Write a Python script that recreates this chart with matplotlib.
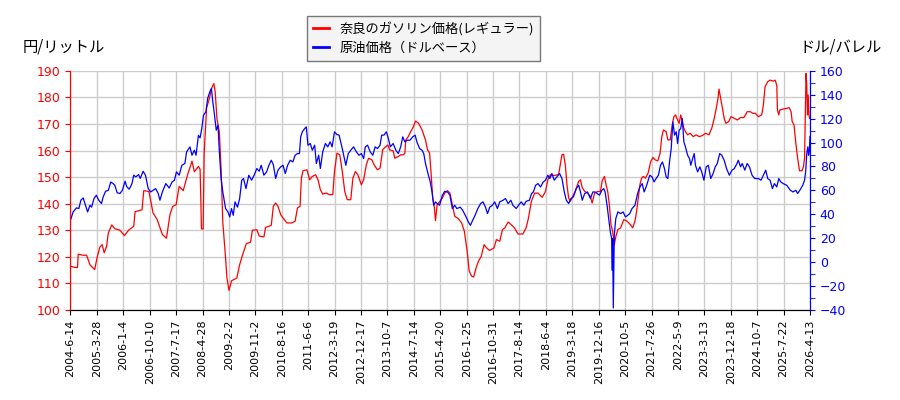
import numpy as np
import pandas as pd
import matplotlib
matplotlib.use("Agg")
import matplotlib.pyplot as plt
from matplotlib.ticker import MultipleLocator

# ---- data ----
tick_labels = ["2004-6-14", "2005-3-28", "2006-1-4", "2006-10-10", "2007-7-17", "2008-4-28",
               "2009-2-2", "2009-11-2", "2010-8-16", "2011-6-6", "2012-3-19", "2012-12-17",
               "2013-10-7", "2014-7-14", "2015-4-20", "2016-1-25", "2016-10-31", "2017-8-14",
               "2018-6-4", "2019-3-18", "2019-12-16", "2020-10-5", "2021-7-26", "2022-5-9",
               "2023-3-13", "2023-12-18", "2024-10-7", "2025-7-22", "2026-4-13"]

# gasoline price in Nara (yen/litre): decimal year, value
gas_year = [2004.45, 2004.58, 2004.66, 2004.68, 2004.83, 2004.93, 2005.03, 2005.17, 2005.24, 2005.32,
            2005.39, 2005.45, 2005.52, 2005.57, 2005.67, 2005.76, 2005.91, 2006.04, 2006.16, 2006.31,
            2006.35, 2006.55, 2006.60, 2006.75, 2006.87, 2006.99, 2007.14, 2007.26, 2007.36, 2007.44,
            2007.54, 2007.63, 2007.75, 2007.88, 2008.01, 2008.08, 2008.20, 2008.25, 2008.27, 2008.29,
            2008.34, 2008.37, 2008.44, 2008.52, 2008.59, 2008.65, 2008.69, 2008.74, 2008.81, 2008.86,
            2008.91, 2008.99, 2009.03, 2009.09, 2009.16, 2009.31, 2009.39, 2009.48, 2009.58, 2009.70,
            2009.75, 2009.88, 2009.95, 2010.09, 2010.14, 2010.24, 2010.31, 2010.37, 2010.44, 2010.51,
            2010.59, 2010.66, 2010.78, 2010.93, 2011.03, 2011.10, 2011.18, 2011.22, 2011.27, 2011.39,
            2011.47, 2011.55, 2011.65, 2011.72, 2011.79, 2011.86, 2011.96, 2012.06, 2012.16, 2012.21,
            2012.28, 2012.36, 2012.43, 2012.50, 2012.57, 2012.67, 2012.73, 2012.80, 2012.87, 2012.97,
            2013.04, 2013.12, 2013.19, 2013.29, 2013.36, 2013.46, 2013.54, 2013.62, 2013.68, 2013.78,
            2013.83, 2013.93, 2013.98, 2014.08, 2014.15, 2014.23, 2014.27, 2014.30, 2014.37, 2014.44,
            2014.52, 2014.58, 2014.67, 2014.77, 2014.87, 2014.93, 2014.99, 2015.03, 2015.08, 2015.13,
            2015.16, 2015.21, 2015.29, 2015.36, 2015.43, 2015.51, 2015.58, 2015.65, 2015.72, 2015.82,
            2015.92, 2016.00, 2016.08, 2016.14, 2016.21, 2016.27, 2016.34, 2016.41, 2016.49, 2016.57,
            2016.64, 2016.73, 2016.86, 2016.93, 2017.03, 2017.11, 2017.18, 2017.28, 2017.37, 2017.47,
            2017.57, 2017.72, 2017.82, 2017.89, 2017.98, 2018.08, 2018.18, 2018.31, 2018.41, 2018.48,
            2018.555, 2018.65, 2018.80, 2018.85, 2018.90, 2018.95, 2019.00, 2019.05, 2019.10, 2019.15,
            2019.22, 2019.29, 2019.39, 2019.44, 2019.49, 2019.56, 2019.64, 2019.72, 2019.77, 2019.84,
            2019.93, 2020.01, 2020.06, 2020.13, 2020.18, 2020.23, 2020.28, 2020.33, 2020.38, 2020.43,
            2020.48, 2020.54, 2020.62, 2020.72, 2020.82, 2020.92, 2020.99, 2021.06, 2021.11, 2021.16,
            2021.21, 2021.26, 2021.31, 2021.38, 2021.46, 2021.54, 2021.61, 2021.67, 2021.75, 2021.82,
            2021.87, 2021.92, 2022.00, 2022.05, 2022.12, 2022.18, 2022.23, 2022.28, 2022.34, 2022.39,
            2022.44, 2022.49, 2022.54, 2022.59, 2022.66, 2022.74, 2022.84, 2022.93, 2023.03, 2023.13,
            2023.23, 2023.33, 2023.41, 2023.48, 2023.54, 2023.59, 2023.62, 2023.67, 2023.72, 2023.77,
            2023.82, 2023.90, 2023.97, 2024.07, 2024.16, 2024.26, 2024.36, 2024.46, 2024.56, 2024.63,
            2024.71, 2024.80, 2024.90, 2024.95, 2025.00, 2025.08, 2025.15, 2025.25, 2025.30, 2025.35,
            2025.37, 2025.41, 2025.44, 2025.54, 2025.64, 2025.71, 2025.76, 2025.79, 2025.84, 2025.89,
            2025.94, 2025.99, 2026.06, 2026.10, 2026.13, 2026.15, 2026.17, 2026.19, 2026.21, 2026.23,
            2026.25, 2026.27]
gas_price = [116.5, 116, 116, 121, 120.6, 120.6, 117, 115.2, 119.6, 123.6,
             124.6, 121.5, 124, 129, 132, 130.6, 130, 128, 130, 131.5,
             137, 137.7, 144.9, 144.6, 136.5, 134, 128.4, 127, 135.9, 139,
             139.6, 146.5, 144.9, 150.9, 156, 152, 154, 153, 142.7, 130.5,
             130.5, 159, 176, 179.6, 183.6, 185.2, 182, 172, 167, 153,
             133, 119.6, 112, 107.4, 111, 112, 117, 121, 125, 125.5,
             130, 130.2, 127.8, 127.5, 131.1, 131.5, 131.9, 139, 140.25, 139,
             135.9, 134.6, 132.75, 132.75, 133.4, 138.4, 139, 149.6, 152.4, 152.75,
             149, 150.25, 150.9, 149, 145.25, 143.6, 144, 143.4, 143.4, 152.1,
             159, 158.4, 152.1, 144.6, 141.5, 141.5, 149.6, 152.1, 150.9, 147.1,
             149, 154.6, 157.1, 156.5, 154.6, 152.75, 153.4, 160.25, 161.1, 162.1,
             160.25, 159.9, 157.1, 157.75, 158.4, 158.4, 159, 164, 165.25, 167.1,
             169, 171.1, 170.25, 167.75, 164, 160.25, 159, 152.1, 142.1, 138.4,
             133.6, 139.6, 140.9, 142.1, 144, 144.9, 144, 139.6, 135.25, 134.4,
             132.75, 129.6, 122.1, 114.6, 112.75, 112.4, 115.9, 118.4, 120.25, 124.6,
             123.4, 122.4, 123.4, 126.5, 125.9, 130.25, 130.9, 133.1, 132.1, 130.9,
             128.6, 128.6, 130.9, 134.6, 140.9, 144, 144, 142.4, 144.6, 149,
             150.9, 150.6, 150.9, 154.6, 158.4, 158.6, 154.6, 147.1, 142.1, 140.9,
             142.75, 144.6, 148.4, 149, 146, 144.6, 144, 142.75, 140.25, 144,
             144.6, 144.6, 148.6, 150.25, 147.1, 144.6, 139.6, 132.1, 129.6, 124.6,
             127.75, 130.25, 130.9, 134, 133.4, 132.1, 130.9, 133.4, 137.1, 142.1,
             147.1, 149.6, 150.25, 149.6, 151.5, 155.9, 157.4, 156.5, 156.1, 159,
             165.25, 167.75, 167.1, 164, 164, 169.6, 172.75, 173.4, 171.5, 170.25,
             173.4, 170.9, 168.4, 167.1, 165.9, 166.5, 165.25, 165.9, 165.25, 165.6,
             166.5, 165.9, 168.4, 172.1, 175.9, 179.6, 183.1, 179.6, 175.9, 172.1,
             170.25, 170.9, 172.75, 172.1, 171.5, 172.4, 172.4, 174.6, 174.6, 174,
             174, 172.75, 173.4, 177.1, 184, 185.9, 186.5, 186.1, 186.5, 184.6,
             175.25, 173.4, 175.25, 175.6, 175.9, 176.1, 174.6, 170.9, 169.6, 162.75,
             157.1, 152.4, 152.4, 154, 157.1, 173.4, 189, 184.6, 173.4, 180.9,
             173.4, 172.1]

# crude oil price (USD/barrel): decimal year, value
oil_year = [2004.46, 2004.53, 2004.63, 2004.70, 2004.76, 2004.83, 2004.88, 2004.96, 2005.03, 2005.08,
            2005.15, 2005.22, 2005.29, 2005.37, 2005.42, 2005.49, 2005.57, 2005.64, 2005.71, 2005.76,
            2005.83, 2005.91, 2005.98, 2006.06, 2006.11, 2006.18, 2006.26, 2006.31, 2006.37, 2006.45,
            2006.50, 2006.58, 2006.65, 2006.73, 2006.80, 2006.87, 2006.945, 2007.02, 2007.07, 2007.14,
            2007.24, 2007.34, 2007.42, 2007.49, 2007.55, 2007.63, 2007.71, 2007.80, 2007.85, 2007.95,
            2008.01, 2008.08, 2008.13, 2008.20, 2008.25, 2008.30, 2008.35, 2008.42, 2008.47, 2008.54,
            2008.58, 2008.62, 2008.67, 2008.72, 2008.77, 2008.81, 2008.86, 2008.91, 2008.99, 2009.06,
            2009.11, 2009.16, 2009.21, 2009.26, 2009.33, 2009.39, 2009.45, 2009.50, 2009.57, 2009.65,
            2009.73, 2009.80, 2009.88, 2009.95, 2010.01, 2010.09, 2010.17, 2010.24, 2010.31, 2010.37,
            2010.44, 2010.51, 2010.59, 2010.66, 2010.73, 2010.80, 2010.88, 2010.96, 2011.03, 2011.10,
            2011.16, 2011.20, 2011.25, 2011.32, 2011.37, 2011.42, 2011.49, 2011.55, 2011.62, 2011.67,
            2011.74, 2011.79, 2011.86, 2011.94, 2012.01, 2012.08, 2012.14, 2012.21, 2012.28, 2012.34,
            2012.43, 2012.47, 2012.53, 2012.60, 2012.67, 2012.75, 2012.83, 2012.90, 2012.97, 2013.04,
            2013.09, 2013.16, 2013.24, 2013.32, 2013.39, 2013.46, 2013.54, 2013.59, 2013.66, 2013.73,
            2013.78, 2013.85, 2013.93, 2014.01, 2014.08, 2014.15, 2014.21, 2014.27, 2014.34, 2014.42,
            2014.50, 2014.57, 2014.62, 2014.70, 2014.77, 2014.82, 2014.87, 2014.93, 2015.01, 2015.06,
            2015.11, 2015.16, 2015.21, 2015.28, 2015.36, 2015.43, 2015.51, 2015.58, 2015.65, 2015.72,
            2015.78, 2015.88, 2015.95, 2016.05, 2016.115, 2016.175, 2016.24, 2016.31, 2016.39, 2016.47,
            2016.54, 2016.61, 2016.67, 2016.735, 2016.81, 2016.88, 2016.96, 2017.03, 2017.13, 2017.20,
            2017.28, 2017.36, 2017.42, 2017.52, 2017.59, 2017.67, 2017.75, 2017.82, 2017.92, 2017.985,
            2018.04, 2018.11, 2018.18, 2018.26, 2018.34, 2018.41, 2018.48, 2018.54, 2018.60, 2018.67,
            2018.75, 2018.83, 2018.90, 2018.97, 2019.03, 2019.10, 2019.17, 2019.24, 2019.32, 2019.39,
            2019.44, 2019.49, 2019.56, 2019.64, 2019.72, 2019.79, 2019.855, 2019.91, 2019.98, 2020.05,
            2020.11, 2020.15, 2020.21, 2020.26, 2020.31, 2020.35, 2020.37, 2020.38, 2020.40, 2020.43,
            2020.475, 2020.54, 2020.62, 2020.70, 2020.77, 2020.84, 2020.90, 2020.97, 2021.06, 2021.14,
            2021.21, 2021.28, 2021.34, 2021.41, 2021.51, 2021.58, 2021.64, 2021.70, 2021.77, 2021.83,
            2021.89, 2021.95, 2022.00, 2022.05, 2022.10, 2022.15, 2022.20, 2022.25, 2022.30, 2022.34,
            2022.39, 2022.44, 2022.49, 2022.54, 2022.59, 2022.66, 2022.72, 2022.76, 2022.82, 2022.87,
            2022.91, 2022.98, 2023.05, 2023.11, 2023.18, 2023.25, 2023.31, 2023.38, 2023.45, 2023.51,
            2023.57, 2023.64, 2023.70, 2023.77, 2023.84, 2023.92, 2024.00, 2024.07, 2024.15, 2024.19,
            2024.26, 2024.31, 2024.39, 2024.46, 2024.53, 2024.61, 2024.69, 2024.80, 2024.88, 2024.95,
            2025.02, 2025.08, 2025.15, 2025.22, 2025.28, 2025.35, 2025.41, 2025.47, 2025.54, 2025.64,
            2025.74, 2025.81, 2025.89, 2025.94, 2026.00, 2026.08, 2026.13, 2026.16, 2026.19, 2026.22,
            2026.24, 2026.26, 2026.28]
oil_price = [35.9, 42, 45.4, 44.8, 51.8, 53.7, 49, 42, 47.6, 46,
             53.2, 56, 51.8, 49, 54.6, 59.3, 60, 67, 65.7, 64.3,
             58, 57.4, 60, 67.7, 63, 61, 65.7, 72.7, 71.3, 73.2,
             70, 76, 72.7, 61.5, 58.7, 60, 61.5, 57.4, 51.8, 58.7,
             65.7, 62, 67, 68.5, 75.5, 72.7, 81, 82.5, 92.2, 96.4,
             89.4, 93.6, 89.4, 106, 104, 111.7, 122.9, 125.7, 136.8, 143,
             145.2, 134, 122.9, 110.3, 114.5, 92.2, 70, 58.7, 44.8, 42,
             37.8, 44.8, 39.2, 50.4, 46, 53, 68.5, 70, 61.5, 72.7,
             68.5, 72.7, 78.3, 76, 81, 72.7, 75.5, 81, 85.2, 81.6,
             70, 77, 79.7, 81, 74.1, 81, 85.2, 83.8, 89.4, 90.8,
             90.8, 104.8, 109, 111.7, 113.1, 97.8, 99.2, 93.6, 97.8, 82.5,
             89.4, 78.3, 92.2, 99.2, 96.4, 100.6, 96.4, 109, 106.7, 106.2,
             95, 89.4, 81, 90.8, 93.6, 96.4, 92.2, 89.4, 90.8, 86.6,
             96.4, 97.8, 92.2, 89.4, 96.4, 95, 97.8, 106.2, 106.2, 109,
             104.8, 96.4, 99.2, 93.6, 90.8, 96.4, 104.8, 100.6, 102, 102,
             104.8, 106.2, 100.6, 95, 93.6, 90.8, 82.5, 75.5, 67, 58.7,
             47.6, 50.4, 49, 47.6, 56, 59.3, 58.7, 56, 44.8, 47.6,
             44.8, 46, 43.4, 37.8, 33.6, 30.8, 35, 39.2, 44.8, 49,
             50.4, 46, 40.6, 46, 47.6, 50.4, 44.8, 50.4, 51.8, 53.2,
             49, 51.8, 47.6, 44.8, 47.6, 50.4, 47.6, 50.9, 51.8, 57.4,
             58.7, 64.3, 65.7, 62.9, 67, 68.5, 72.7, 70, 74.1, 68.5,
             71.3, 74.1, 70, 58.7, 51.8, 49, 53.2, 54.6, 61.5, 64.3,
             58.7, 51.8, 57.4, 58.7, 53.2, 58.7, 58.7, 57.4, 56, 60,
             61.5, 58.7, 47.6, 36.4, 25.3, 19.7, -6.8, 19.7, -38.3, 22.5,
             36.4, 42, 40.6, 42, 37.8, 39.2, 40.6, 44.8, 47.6, 57.4,
             62.9, 65.7, 58.7, 63.7, 72.7, 71.3, 67.1, 69.9, 72.7, 81,
             83.8, 78.2, 71.3, 69.9, 83.8, 95, 117.3, 106.2, 109, 99.2,
             110.3, 111.7, 120.1, 100.6, 96.4, 89.4, 86.6, 81, 86.6, 90.8,
             81, 75.5, 79.7, 75.5, 68.5, 79.7, 81, 69.9, 74.1, 79.7,
             82.5, 90.8, 89.4, 85.2, 78.2, 72.7, 76.9, 78.2, 82.5, 85.2,
             79.7, 82.5, 76.9, 82.5, 79.7, 72.7, 69.9, 69.9, 68.5, 72.7,
             76.9, 69.9, 68.5, 61.5, 65.7, 62.9, 69.9, 67.1, 65.7, 64.3,
             60.1, 58.7, 60.1, 57.4, 60.1, 64.3, 68.5, 75.5, 90.8, 96.4,
             89.4, 92.2, 105]

gas_label = "奈良のガソリン価格(レギュラー)"
oil_label = "原油価格（ドルベース）"
left_unit = "円/リットル"
right_unit = "ドル/バレル"

# ---- position mapping: ticks are equally spaced ----
tick_dates = pd.to_datetime(tick_labels, format="%Y-%m-%d")
tick_years = np.array([d.year + (d.dayofyear - 1) / (366 if d.is_leap_year else 365) for d in tick_dates])
tick_idx = np.arange(len(tick_labels))
gx = np.interp(gas_year, tick_years, tick_idx)
ox = np.interp(oil_year, tick_years, tick_idx)

CJK = ["Noto Sans CJK JP", "DejaVu Sans"]

fig = plt.figure(figsize=(9, 4), dpi=100)
ax1 = fig.add_axes([0.0783, 0.225, 0.8217, 0.598])
ax2 = ax1.twinx()

l1, = ax1.plot(gx, gas_price, color="red", lw=0.9)
l2, = ax2.plot(ox, oil_price, color="blue", lw=0.9)

ax1.set_xlim(0, len(tick_labels) - 1)
ax1.set_ylim(100, 190)
ax2.set_ylim(-40, 160)
ax1.set_xticks(tick_idx)
ax1.set_xticklabels(tick_labels, rotation=90, fontsize=8)
ax1.yaxis.set_major_locator(MultipleLocator(10))
ax2.yaxis.set_major_locator(MultipleLocator(20))
ax2.yaxis.set_minor_locator(MultipleLocator(10))

ax1.grid(True, color="#cccccc", lw=1.0)
ax1.set_axisbelow(True)

ax1.tick_params(axis="y", colors="red", labelsize=9)
ax2.tick_params(axis="y", which="both", colors="blue", labelsize=9)
ax2.tick_params(axis="y", which="minor", length=3.5)
ax1.tick_params(axis="x", labelsize=8)

for ax in (ax1, ax2):
    ax.spines["top"].set_visible(False)
    ax.spines["left"].set_color("red")
    ax.spines["right"].set_color("blue")
    ax.spines["bottom"].set_color("black")

fig.text(0.025, 0.883, left_unit, fontsize=11, family=CJK, ha="left", va="center")
fig.text(0.98, 0.883, right_unit, fontsize=11, family=CJK, ha="right", va="center")

leg = fig.legend([l1, l2], [gas_label, oil_label], loc="upper center",
                 bbox_to_anchor=(0.4706, 0.96), borderaxespad=0,
                 prop={"family": CJK, "size": 9.5},
                 fancybox=False, framealpha=1, facecolor="#f4f4f4", edgecolor="#777777",
                 handlelength=1.2, borderpad=0.45, labelspacing=0.45)
for h in leg.legend_handles:
    h.set_linewidth(2)

fig.savefig("out.png", dpi=100)
